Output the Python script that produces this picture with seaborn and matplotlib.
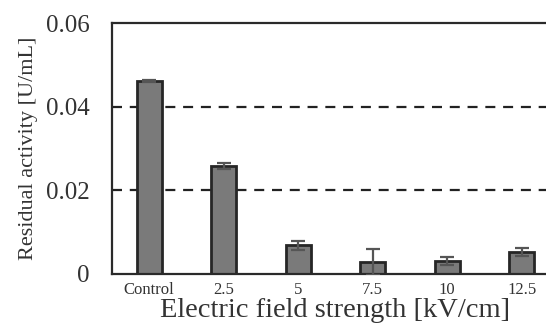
import matplotlib
matplotlib.use("Agg")
import matplotlib.pyplot as plt
import seaborn as sns
import pandas as pd

categories = ["Control", "2.5", "5", "7.5", "10", "12.5"]
values = [0.0461, 0.0258, 0.0069, 0.0029, 0.0031, 0.0053]
errors = [0.0002, 0.0008, 0.0011, 0.0031, 0.0009, 0.0009]
yticks = [0, 0.02, 0.04, 0.06]
ytick_labels = ["0", "0.02", "0.04", "0.06"]

sns.set_theme(style="white")
plt.rcParams["font.family"] = ["Liberation Serif", "DejaVu Serif"]

df = pd.DataFrame({"cat": categories, "val": values})

fig = plt.figure(figsize=(5.46, 3.25), dpi=100)
ax = fig.add_axes([112/546, 51/325, 447/546, 251/325])

for y in [0.02, 0.04]:
    ax.axhline(y, color="#222222", lw=1.6, ls=(0, (4.5, 3.5)), zorder=0)

sns.barplot(data=df, x="cat", y="val", ax=ax, color="#7a7a7a", saturation=1,
            width=0.33, edgecolor="#262626", linewidth=2.0, errorbar=None, zorder=2)

ax.errorbar(range(len(categories)), values, yerr=errors, fmt="none",
            ecolor="#555555", elinewidth=1.6, capsize=5, capthick=1.6, zorder=3)

ax.set_ylim(0, 0.06)
ax.set_xlim(-0.5, len(categories) - 0.5)
ax.set_yticks(yticks)
ax.set_yticklabels(ytick_labels, fontsize=18, color="#333333")
ax.tick_params(axis="y", length=0, pad=16)
ax.tick_params(axis="x", length=0, pad=6, labelsize=12, labelcolor="#333333")

ax.set_xlabel("Electric field strength [kV/cm]", fontsize=20.5, color="#333333", labelpad=0)
ax.set_ylabel("Residual activity [U/mL]", fontsize=16, color="#333333", labelpad=6)

for side in ["left", "top", "bottom", "right"]:
    ax.spines[side].set_color("#2a2a2a")
    ax.spines[side].set_linewidth(1.6)

fig.savefig("out.png", dpi=100)
